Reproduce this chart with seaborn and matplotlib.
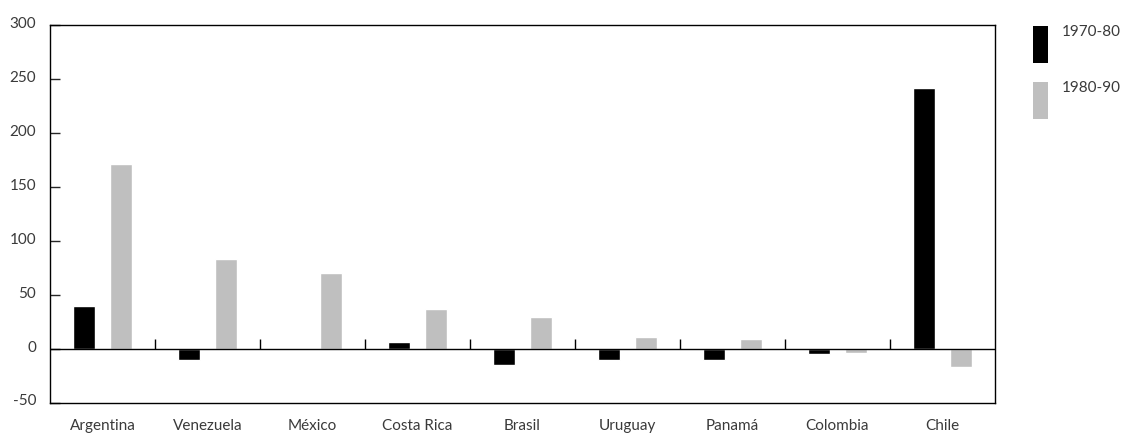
import matplotlib
matplotlib.use("Agg")
import matplotlib.pyplot as plt
import matplotlib.transforms as mtransforms
from matplotlib.patches import Rectangle
import numpy as np
import pandas as pd
import seaborn as sns

countries = ["Argentina", "Venezuela", "México", "Costa Rica", "Brasil",
             "Uruguay", "Panamá", "Colombia", "Chile"]
series_names = ["1970-80", "1980-90"]
values_1970_80 = [40, -10, 0, 6.5, -14.5, -10, -10, -5, 241.5]
values_1980_90 = [171, 83, 70.5, 37, 29.5, 11.5, 9.5, -3.5, -17]
yticks = [-50, 0, 50, 100, 150, 200, 250, 300]
colors = ["#000000", "#bfbfbf"]

df = pd.DataFrame({
    "country": countries * 2,
    "period": [series_names[0]] * len(countries) + [series_names[1]] * len(countries),
    "value": values_1970_80 + values_1980_90,
})

sns.set_theme(style="white")
plt.rcParams["font.family"] = ["Lato", "DejaVu Sans"]
text_color = "#3a3a3a"
fs = 11

fig = plt.figure(figsize=(11.25, 4.35), dpi=100)
ax = fig.add_axes([50 / 1125, 31 / 435, 945 / 1125, 378 / 435])

sns.barplot(data=df, x="country", y="value", hue="period", order=countries,
            hue_order=series_names, palette=colors, width=0.705, gap=0.38,
            saturation=1, legend=False, ax=ax, errorbar=None)

ax.set_xlim(-0.5, len(countries) - 0.5)
ax.set_ylim(-50, 300)
ax.set_yticks(yticks)
ax.set_yticklabels([str(t) for t in yticks])
ax.set_xlabel("")
ax.set_ylabel("")

for s in ax.spines.values():
    s.set_visible(True)
    s.set_color("black")
    s.set_linewidth(1.0)

ax.axhline(0, color="black", linewidth=1.0, zorder=3)
bounds = np.arange(0.5, len(countries) - 0.5, 1.0)
ax.vlines(bounds, 0, 9, color="black", linewidth=1.0, zorder=3)

ax.tick_params(axis="y", direction="in", length=7, width=1.0, pad=10,
               labelsize=fs, labelcolor=text_color, left=True, right=False)
ax.tick_params(axis="x", length=0, pad=11, labelsize=fs, labelcolor=text_color)

offset = mtransforms.ScaledTranslation(0, 4 / 100, fig.dpi_scale_trans)
for lbl in ax.get_yticklabels():
    lbl.set_transform(lbl.get_transform() + offset)

# legend drawn manually (patch + label at top)
W, H = 1125, 435
for i, (name, c) in enumerate(zip(series_names, colors)):
    top = 27 + i * 56
    fig.add_artist(Rectangle((1033 / W, 1 - (top + 37) / H), 15 / W, 37 / H,
                             transform=fig.transFigure, facecolor=c,
                             edgecolor="none"))
    fig.text(1062 / W, 1 - (top + 5) / H, name, fontsize=fs, color=text_color,
             ha="left", va="center")

fig.savefig("out.png", dpi=100)
